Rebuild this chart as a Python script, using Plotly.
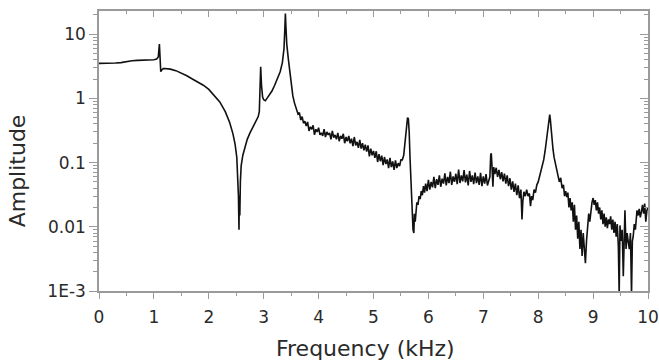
import plotly.graph_objects as go

freq_khz = [
    0.0, 0.1, 0.2, 0.3, 0.4, 0.5, 0.6, 0.7, 0.8, 0.9, 1.0, 1.05, 1.08,
    1.10, 1.115, 1.125, 1.14, 1.17, 1.2, 1.3, 1.4, 1.5, 1.6, 1.7, 1.8, 1.9,
    2.0, 2.1, 2.2, 2.3, 2.38, 2.44, 2.48, 2.51, 2.53, 2.54, 2.55, 2.555, 2.565,
    2.575, 2.59, 2.62, 2.66, 2.7, 2.75, 2.8, 2.85, 2.9, 2.92, 2.935, 2.945,
    2.96, 2.98, 3.0, 3.03, 3.06, 3.1, 3.15, 3.2, 3.25, 3.3, 3.34, 3.37, 3.385,
    3.395, 3.405, 3.42, 3.45, 3.48, 3.5, 3.53, 3.56,
    3.60, 3.625, 3.65, 3.675, 3.70, 3.725, 3.75, 3.775, 3.80, 3.825, 3.85,
    3.875, 3.90, 3.925, 3.95, 3.975, 4.00, 4.025, 4.05, 4.075, 4.10, 4.125,
    4.15, 4.175, 4.20, 4.225, 4.25, 4.275, 4.30, 4.325, 4.35, 4.375, 4.40,
    4.425, 4.45, 4.475, 4.50, 4.525, 4.55, 4.575, 4.60, 4.625, 4.65, 4.675,
    4.70, 4.725, 4.75, 4.775, 4.80, 4.825, 4.85, 4.875, 4.90, 4.925, 4.95,
    4.975, 5.00, 5.025, 5.05, 5.075, 5.10, 5.125, 5.15, 5.175, 5.20, 5.225,
    5.25, 5.275, 5.30, 5.325, 5.35, 5.375, 5.40, 5.425, 5.45, 5.475, 5.50,
    5.525, 5.55, 5.575, 5.60, 5.62, 5.635, 5.65, 5.665, 5.68, 5.70, 5.72,
    5.735, 5.745, 5.76, 5.775, 5.79, 5.81, 5.83, 5.85, 5.87, 5.89, 5.91, 5.93,
    5.95, 5.975, 6.0, 6.025, 6.05, 6.075, 6.1, 6.125, 6.15, 6.175, 6.2, 6.225,
    6.25, 6.275, 6.3, 6.325, 6.35, 6.375, 6.4, 6.425, 6.45, 6.475, 6.5, 6.525,
    6.55, 6.575, 6.6, 6.625, 6.65, 6.675, 6.7, 6.725, 6.75, 6.775, 6.8, 6.825,
    6.85, 6.875, 6.9, 6.925, 6.95, 6.975, 7.0, 7.025, 7.05, 7.075, 7.1, 7.12,
    7.135, 7.145, 7.155, 7.165, 7.175, 7.19, 7.21, 7.235, 7.26, 7.285, 7.31,
    7.335, 7.36, 7.385, 7.41, 7.435, 7.46, 7.485, 7.51, 7.535, 7.56, 7.585,
    7.61, 7.635, 7.66, 7.685, 7.705, 7.72, 7.74, 7.765, 7.79, 7.815, 7.84,
    7.86, 7.88, 7.9, 7.925, 7.95, 7.975, 8.0, 8.025, 8.05, 8.075, 8.1, 8.125,
    8.15, 8.175, 8.2, 8.21, 8.22, 8.235, 8.25, 8.27, 8.29, 8.31, 8.335, 8.36,
    8.385, 8.41, 8.435, 8.46, 8.48, 8.5, 8.52, 8.54, 8.56, 8.58, 8.6, 8.62,
    8.64, 8.66, 8.68, 8.7, 8.72, 8.74, 8.76, 8.78, 8.8, 8.82, 8.84, 8.86, 8.88,
    8.9, 8.92, 8.94, 8.96, 8.98, 9.0, 9.02, 9.04, 9.06, 9.08, 9.1, 9.12, 9.14,
    9.16, 9.18, 9.2, 9.22, 9.24, 9.26, 9.28, 9.3, 9.32, 9.34, 9.36, 9.38, 9.4,
    9.42, 9.44, 9.46, 9.475, 9.49, 9.51, 9.53, 9.55, 9.565, 9.58, 9.6, 9.62,
    9.64, 9.66, 9.68, 9.7, 9.715, 9.73, 9.75, 9.77, 9.8, 9.82, 9.84, 9.86,
    9.88, 9.9, 9.92, 9.94, 9.96, 9.98, 10.0,
]

amplitude = [
    3.5, 3.5, 3.52, 3.55, 3.6, 3.75, 3.85, 3.9, 3.92, 3.95, 4.0, 4.1, 4.4,
    7.0, 4.5, 2.6, 2.75, 2.9, 2.92, 2.85, 2.7, 2.5, 2.25, 2.0, 1.8, 1.6,
    1.38, 1.12, 0.88, 0.62, 0.42, 0.28, 0.19, 0.12, 0.06, 0.03, 0.009, 0.03, 0.015,
    0.05, 0.09, 0.13, 0.18, 0.23, 0.29, 0.35, 0.42, 0.52, 0.62, 2.0, 3.1,
    1.6, 1.05, 0.95, 0.92, 1.0, 1.12, 1.3, 1.6, 2.0, 2.6, 3.6, 6.0, 12.0,
    21.0, 13.0, 7.0, 4.0, 2.3, 1.6, 1.1, 0.85,
    0.68, 0.57, 0.60, 0.46, 0.52, 0.41, 0.44, 0.37, 0.43, 0.31, 0.36,
    0.33, 0.38, 0.27, 0.33, 0.30, 0.35, 0.27, 0.29, 0.26, 0.33, 0.25,
    0.30, 0.27, 0.29, 0.23, 0.31, 0.245, 0.27, 0.23, 0.29, 0.215, 0.26,
    0.235, 0.28, 0.20, 0.25, 0.215, 0.26, 0.20, 0.235, 0.18, 0.25, 0.185,
    0.21, 0.17, 0.225, 0.165, 0.20, 0.155, 0.19, 0.148, 0.185, 0.125, 0.165,
    0.13, 0.152, 0.118, 0.15, 0.102, 0.135, 0.105, 0.128, 0.091, 0.122, 0.095,
    0.112, 0.082, 0.118, 0.085, 0.104, 0.077, 0.108, 0.082, 0.098, 0.088, 0.11,
    0.11, 0.13, 0.2, 0.38, 0.5, 0.48, 0.3, 0.12, 0.05, 0.02, 0.009,
    0.008, 0.016, 0.012, 0.02, 0.024, 0.022, 0.03, 0.027, 0.036, 0.031, 0.043, 0.034,
    0.047, 0.036, 0.054, 0.038, 0.05, 0.041, 0.06, 0.04, 0.055, 0.045, 0.063, 0.042,
    0.056, 0.047, 0.068, 0.044, 0.06, 0.048, 0.072, 0.045, 0.061, 0.05, 0.067, 0.046,
    0.078, 0.048, 0.063, 0.051, 0.076, 0.049, 0.065, 0.044, 0.074, 0.05, 0.063, 0.046,
    0.07, 0.048, 0.061, 0.045, 0.069, 0.043, 0.061, 0.047, 0.066, 0.044, 0.056, 0.06,
    0.13, 0.14, 0.1, 0.05, 0.042, 0.085, 0.066, 0.083, 0.06, 0.077, 0.055,
    0.071, 0.051, 0.067, 0.047, 0.063, 0.043, 0.057, 0.038, 0.051, 0.035, 0.047,
    0.031, 0.044, 0.028, 0.038, 0.013, 0.025, 0.035, 0.03, 0.038, 0.03, 0.033,
    0.021, 0.03, 0.026, 0.038, 0.034, 0.045, 0.05, 0.06, 0.07, 0.085, 0.11, 0.15,
    0.22, 0.32, 0.5, 0.56, 0.48, 0.33, 0.22, 0.16, 0.12, 0.1, 0.08, 0.07,
    0.05, 0.058, 0.04, 0.045, 0.03, 0.036, 0.029, 0.034, 0.02, 0.028, 0.018, 0.024,
    0.012, 0.022, 0.009, 0.015, 0.0065, 0.012, 0.0045, 0.009, 0.0035, 0.008, 0.005, 0.0027, 0.006,
    0.011, 0.016, 0.012, 0.02, 0.024, 0.028, 0.022, 0.026, 0.018, 0.024, 0.016, 0.02, 0.013,
    0.018, 0.011, 0.016, 0.01, 0.014, 0.0095, 0.013, 0.011, 0.0145, 0.009, 0.013, 0.008, 0.012,
    0.007, 0.011, 0.005, 0.0009, 0.0105, 0.006, 0.009, 0.0017, 0.006, 0.018, 0.0045, 0.008,
    0.0058, 0.0045, 0.008, 0.0009, 0.006, 0.007, 0.011, 0.009, 0.018, 0.015, 0.019, 0.014,
    0.017, 0.022, 0.016, 0.023, 0.012, 0.018, 0.02,
]

x_ticks = [0, 1, 2, 3, 4, 5, 6, 7, 8, 9, 10]
y_tick_vals = [0.001, 0.01, 0.1, 1, 10]
y_tick_text = ["1E-3", "0.01", "0.1", "1", "10"]
x_title = "Frequency (kHz)"
y_title = "Amplitude"

FONT = "DejaVu Sans, Liberation Sans, sans-serif"
AXIS_COLOR = "#9a9a9a"
TEXT_COLOR = "#2a2a2a"

x_range = [0, 10]
y_range = [-3, 1.36]
y_minor = [m * d for d in [0.001, 0.01, 0.1, 1, 10] for m in range(2, 10)]
x_minor = [v + 0.5 for v in x_ticks[:-1]]

fig = go.Figure()
fig.add_trace(go.Scatter(
    x=freq_khz, y=amplitude, mode="lines",
    line=dict(color="#111111", width=1.6),
    hoverinfo="skip", showlegend=False,
))
fig.add_trace(go.Scatter(
    x=freq_khz, y=amplitude, mode="lines", xaxis="x2", yaxis="y2",
    line=dict(color="rgba(0,0,0,0)", width=0),
    hoverinfo="skip", showlegend=False,
))

common_x = dict(range=x_range, showgrid=False, zeroline=False, showline=True,
                linecolor=AXIS_COLOR, linewidth=1.5, tickcolor=AXIS_COLOR,
                tickwidth=1.3, tickmode="array", tickvals=x_ticks, automargin=False)
common_y = dict(type="log", range=y_range, showgrid=False, zeroline=False, showline=True,
                linecolor=AXIS_COLOR, linewidth=1.5, tickcolor=AXIS_COLOR,
                tickwidth=1.3, tickmode="array", tickvals=y_tick_vals, automargin=False)

fig.update_layout(
    width=659, height=364,
    margin=dict(l=99, r=11, t=11, b=73),
    paper_bgcolor="white", plot_bgcolor="white",
    font=dict(family=FONT, color=TEXT_COLOR, size=17),
    xaxis=dict(**common_x, ticks="outside", ticklen=6,
               ticktext=[str(v) for v in x_ticks], ticklabelstandoff=4,
               tickfont=dict(size=17, color=TEXT_COLOR, family=FONT),
               minor=dict(tickmode="array", tickvals=x_minor, ticks="outside",
                          ticklen=3, tickcolor=AXIS_COLOR, tickwidth=1.2)),
    yaxis=dict(**common_y, ticks="outside", ticklen=8, ticktext=y_tick_text,
               tickfont=dict(size=17, color=TEXT_COLOR, family=FONT),
               minor=dict(tickmode="array", tickvals=y_minor, ticks="outside",
                          ticklen=4, tickcolor=AXIS_COLOR, tickwidth=1.0)),
    xaxis2=dict(**common_x, overlaying="x", side="top", ticks="inside", ticklen=6,
                showticklabels=False,
                minor=dict(tickmode="array", tickvals=x_minor, ticks="inside",
                           ticklen=3, tickcolor=AXIS_COLOR, tickwidth=1.2)),
    yaxis2=dict(**common_y, overlaying="y", side="right", ticks="inside", ticklen=8,
                showticklabels=False,
                minor=dict(tickmode="array", tickvals=y_minor, ticks="inside",
                           ticklen=4, tickcolor=AXIS_COLOR, tickwidth=1.0)),
    annotations=[
        dict(text=x_title, xref="paper", yref="paper", x=0.486, y=-0.205,
             xanchor="center", yanchor="middle", showarrow=False,
             font=dict(size=22, color=TEXT_COLOR, family=FONT)),
        dict(text=y_title, xref="paper", yref="paper", x=-0.148, y=0.43,
             xanchor="center", yanchor="middle", showarrow=False, textangle=-90,
             font=dict(size=22, color=TEXT_COLOR, family=FONT)),
    ],
)

fig.write_html("out.html")
